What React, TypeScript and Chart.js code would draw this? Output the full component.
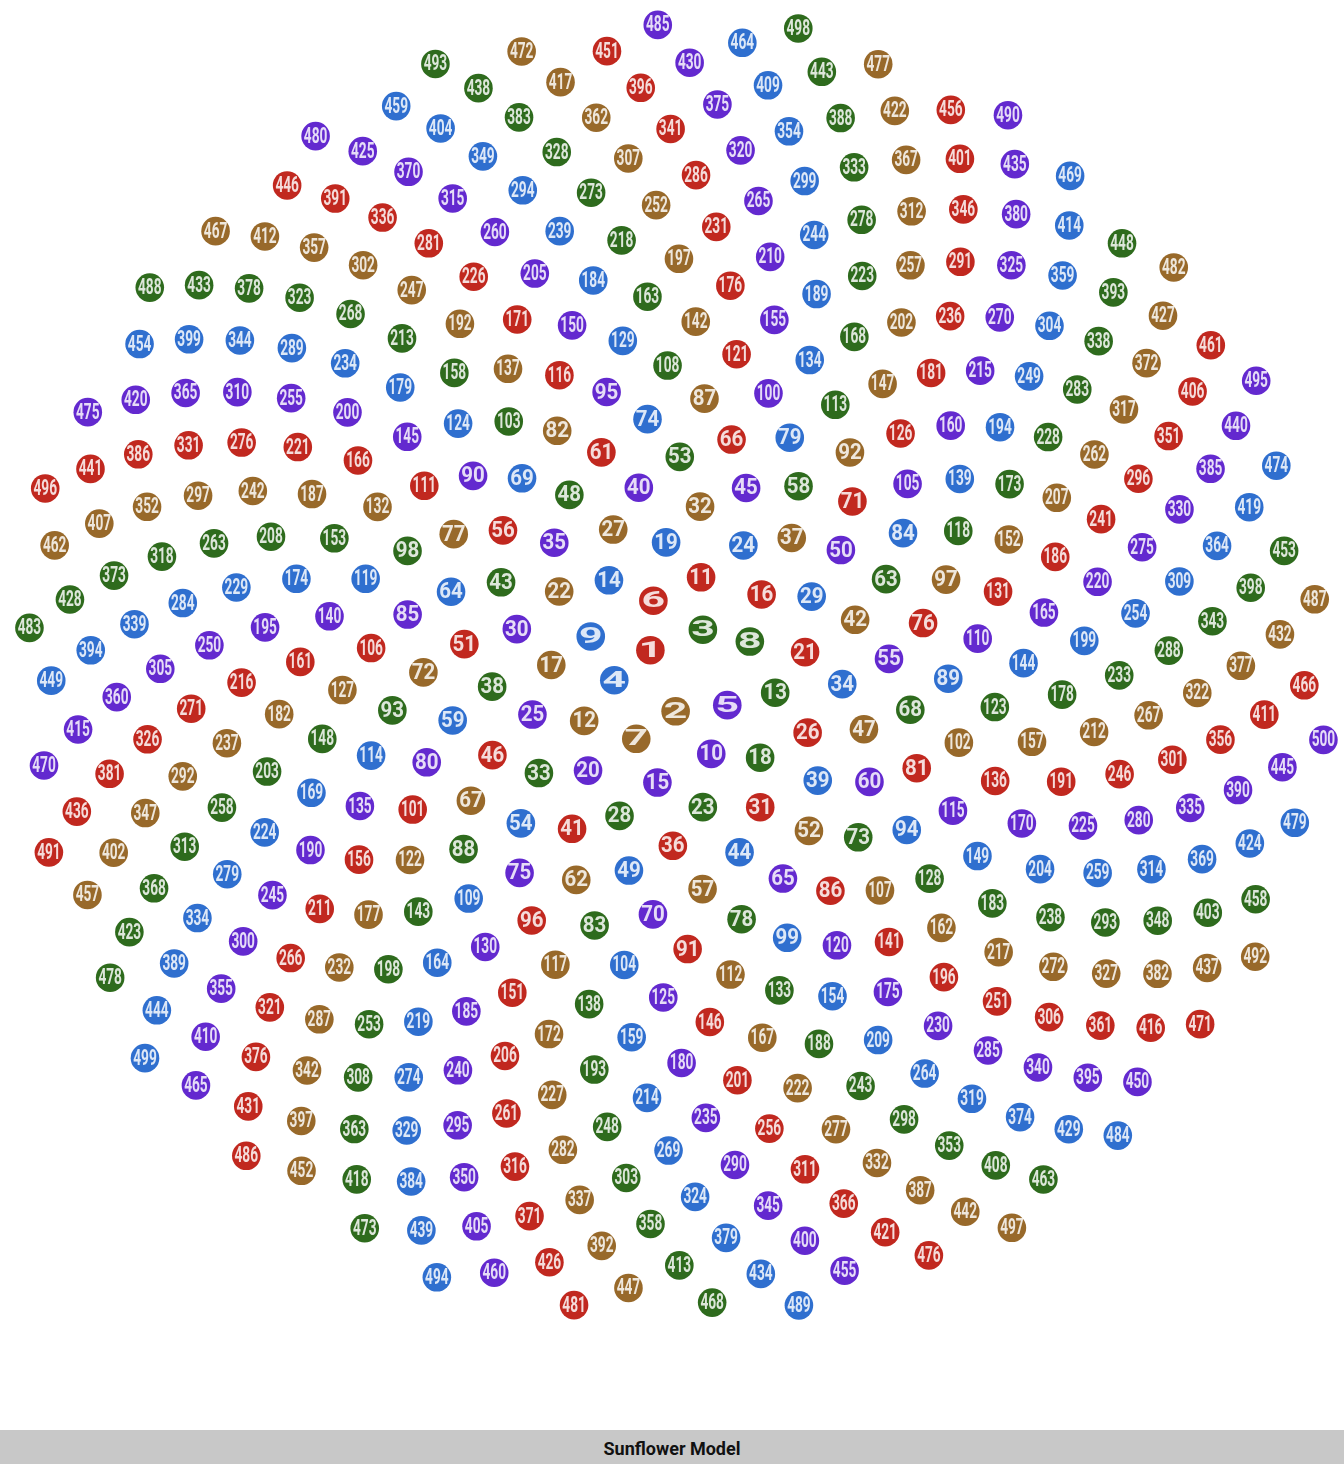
import React, { useEffect, useRef } from "react";
import { Chart, registerables } from "chart.js";

Chart.register(...registerables);

// Sunflower (phyllotaxis) model: seed n sits at radius sqrt(n), angle n * golden angle
const SEED_COUNT = 500;
const GOLDEN_ANGLE_DEG = 137.50776;
const seedIds: number[] = Array.from({ length: SEED_COUNT }, (_, i) => i + 1);
const palette: string[] = ["#c1281f", "#98692a", "#2e6b1d", "#2f6fcf", "#6329cf"];
const chartTitle = "Sunflower Model";

const points = seedIds.map((n) => {
  const t = (n * GOLDEN_ANGLE_DEG * Math.PI) / 180;
  const r = Math.sqrt(n);
  return { x: r * Math.cos(t), y: r * Math.sin(t), id: n };
});
const pointColors = seedIds.map((n) => palette[(n - 1) % palette.length]);

const W = 1344;
const H = 1430;
const PX_PER_UNIT = 29.3;
const CX = 672;
const CY = 670;

const labelPlugin = {
  id: "seedLabels",
  afterDatasetsDraw(chart: any) {
    const ctx = chart.ctx;
    const meta = chart.getDatasetMeta(0);
    ctx.save();
    ctx.font = "bold 22px Roboto";
    ctx.fillStyle = "rgba(255,255,255,0.84)";
    ctx.textAlign = "center";
    ctx.textBaseline = "middle";
    meta.data.forEach((el: any, i: number) => {
      const txt = String(seedIds[i]);
      const w = ctx.measureText(txt).width;
      const target = 23.5;
      ctx.save();
      ctx.translate(el.x, el.y + 1);
      ctx.scale(target / w, 1);
      ctx.fillText(txt, 0, 0);
      ctx.restore();
    });
    ctx.restore();
  },
};

export default function App() {
  const ref = useRef<HTMLCanvasElement | null>(null);
  useEffect(() => {
    document.body.style.margin = "0";
    const canvas = ref.current!;
    const chart = new Chart(canvas, {
      type: "scatter",
      data: {
        datasets: [
          {
            data: points,
            pointRadius: 14.3,
            pointHoverRadius: 14.3,
            pointBackgroundColor: pointColors,
            pointBorderWidth: 0,
            borderWidth: 0,
            clip: false,
          },
        ],
      },
      options: {
        animation: false,
        responsive: false,
        devicePixelRatio: 1,
        layout: { padding: 0, autoPadding: false },
        plugins: { legend: { display: false }, tooltip: { enabled: false }, title: { display: false } },
        scales: {
          x: { type: "linear", display: false, min: -CX / PX_PER_UNIT, max: (W - CX) / PX_PER_UNIT },
          y: { type: "linear", display: false, min: -(H - CY) / PX_PER_UNIT, max: CY / PX_PER_UNIT },
        },
      },
      plugins: [labelPlugin],
    });
    return () => chart.destroy();
  }, []);
  return (
    <div style={{ width: W, fontFamily: "Roboto, sans-serif" }}>
      <canvas ref={ref} width={W} height={H} style={{ width: W, height: H, display: "block" }} />
      <div
        style={{
          height: 34,
          background: "#c8c8c8",
          textAlign: "center",
          lineHeight: "37px",
          fontWeight: "bold",
          fontSize: 18,
          color: "#111",
        }}
      >
        {chartTitle}
      </div>
    </div>
  );
}
